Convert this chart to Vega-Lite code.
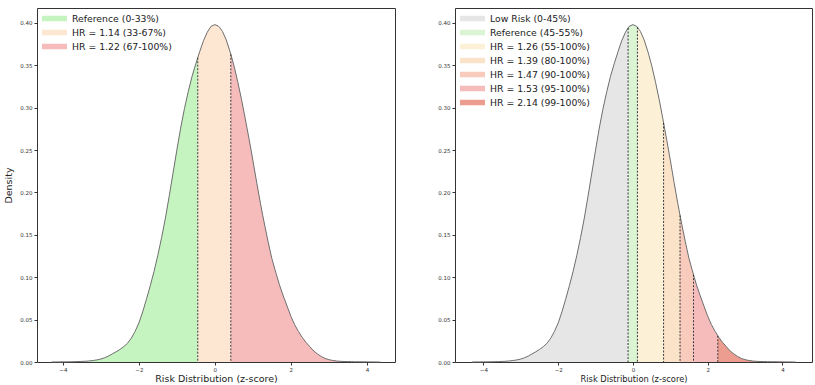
{
  "$schema": "https://vega.github.io/schema/vega-lite/v6.json",
  "padding": {"left": 3, "top": 7, "right": 0, "bottom": 0},
  "background": "white",
  "config": {
    "font": "DejaVu Sans",
    "view": {"stroke": "#333", "strokeWidth": 1},
    "axis": {"grid": false, "domain": false, "tickColor": "#333", "tickSize": 3, "labelFontSize": 5.5, "labelColor": "#333", "labelPadding": 2, "titleFontSize": 9.5, "titleFontWeight": "normal", "titleColor": "#222", "labelFont": "DejaVu Sans", "titleFont": "DejaVu Sans"},
    "legend": {"labelFont": "DejaVu Sans", "labelFontSize": 9.3, "labelColor": "#222", "labelOffset": 5, "rowPadding": 3, "clipHeight": 11, "padding": 0, "offset": 5}
  },
  "datasets": {
    "kde": [
      {"x": -4.3, "d": 0}, {"x": -4.2, "d": 0.0001}, {"x": -4.1, "d": 0.0001}, {"x": -4.0, "d": 0.0002}, {"x": -3.9, "d": 0.0002},
      {"x": -3.8, "d": 0.0003}, {"x": -3.7, "d": 0.0004}, {"x": -3.6, "d": 0.0005}, {"x": -3.5, "d": 0.0007}, {"x": -3.4, "d": 0.0009},
      {"x": -3.3, "d": 0.0013}, {"x": -3.2, "d": 0.0018}, {"x": -3.1, "d": 0.0025}, {"x": -3.0, "d": 0.0035}, {"x": -2.9, "d": 0.005},
      {"x": -2.8, "d": 0.007}, {"x": -2.7, "d": 0.0095}, {"x": -2.6, "d": 0.012}, {"x": -2.5, "d": 0.0148}, {"x": -2.4, "d": 0.018},
      {"x": -2.3, "d": 0.022}, {"x": -2.2, "d": 0.028}, {"x": -2.1, "d": 0.036}, {"x": -2.0, "d": 0.046}, {"x": -1.9, "d": 0.059},
      {"x": -1.8, "d": 0.074}, {"x": -1.7, "d": 0.09}, {"x": -1.6, "d": 0.107}, {"x": -1.5, "d": 0.126}, {"x": -1.4, "d": 0.147},
      {"x": -1.3, "d": 0.17}, {"x": -1.2, "d": 0.196}, {"x": -1.1, "d": 0.223}, {"x": -1.0, "d": 0.25}, {"x": -0.9, "d": 0.276},
      {"x": -0.8, "d": 0.299}, {"x": -0.7, "d": 0.319}, {"x": -0.6, "d": 0.337}, {"x": -0.5, "d": 0.352}, {"x": -0.45, "d": 0.359},
      {"x": -0.4, "d": 0.366}, {"x": -0.3, "d": 0.379}, {"x": -0.2, "d": 0.389}, {"x": -0.13, "d": 0.394}, {"x": -0.1, "d": 0.396},
      {"x": 0.0, "d": 0.398}, {"x": 0.1, "d": 0.396}, {"x": 0.12, "d": 0.395}, {"x": 0.2, "d": 0.39}, {"x": 0.3, "d": 0.38},
      {"x": 0.4, "d": 0.366}, {"x": 0.42, "d": 0.363}, {"x": 0.5, "d": 0.35}, {"x": 0.6, "d": 0.331}, {"x": 0.7, "d": 0.31},
      {"x": 0.8, "d": 0.287}, {"x": 0.82, "d": 0.282}, {"x": 0.9, "d": 0.263}, {"x": 1.0, "d": 0.238}, {"x": 1.1, "d": 0.212},
      {"x": 1.2, "d": 0.187}, {"x": 1.26, "d": 0.173}, {"x": 1.3, "d": 0.164}, {"x": 1.4, "d": 0.142}, {"x": 1.5, "d": 0.122},
      {"x": 1.6, "d": 0.106}, {"x": 1.62, "d": 0.103}, {"x": 1.7, "d": 0.091}, {"x": 1.8, "d": 0.078}, {"x": 1.9, "d": 0.066},
      {"x": 2.0, "d": 0.054}, {"x": 2.1, "d": 0.044}, {"x": 2.2, "d": 0.036}, {"x": 2.27, "d": 0.031}, {"x": 2.3, "d": 0.029},
      {"x": 2.4, "d": 0.023}, {"x": 2.5, "d": 0.018}, {"x": 2.6, "d": 0.013}, {"x": 2.7, "d": 0.0095}, {"x": 2.8, "d": 0.0065},
      {"x": 2.9, "d": 0.0042}, {"x": 3.0, "d": 0.0028}, {"x": 3.1, "d": 0.0018}, {"x": 3.2, "d": 0.0012}, {"x": 3.3, "d": 0.0008},
      {"x": 3.4, "d": 0.0006}, {"x": 3.5, "d": 0.0005}, {"x": 3.6, "d": 0.0004}, {"x": 3.7, "d": 0.0003}, {"x": 3.8, "d": 0.0003},
      {"x": 3.9, "d": 0.0002}, {"x": 4.0, "d": 0.0002}, {"x": 4.1, "d": 0.0001}, {"x": 4.2, "d": 0.0001}, {"x": 4.3, "d": 0}, {"x": 4.35, "d": 0}
    ],
    "cutsL": [{"x": -0.45, "d": 0.359}, {"x": 0.42, "d": 0.363}],
    "cutsR": [{"x": -0.13, "d": 0.394}, {"x": 0.12, "d": 0.395}, {"x": 0.82, "d": 0.282}, {"x": 1.26, "d": 0.173}, {"x": 1.62, "d": 0.103}, {"x": 2.27, "d": 0.031}]
  },
  "spacing": 41,
  "resolve": {"scale": {"color": "independent"}, "legend": {"color": "independent"}},
  "hconcat": [
    {
      "width": 358,
      "height": 354,
      "data": {"name": "kde"},
      "encoding": {
        "x": {"field": "x", "type": "quantitative", "scale": {"domain": [-4.68, 4.74], "nice": false, "zero": false}, "axis": {"values": [-4, -2, 0, 2, 4], "format": "d", "labelExpr": "replace(datum.label, '-', '\u2212')", "title": "Risk Distribution (z-score)", "titlePadding": 1}},
        "y": {"field": "d", "type": "quantitative", "scale": {"domain": [0, 0.4176], "nice": false}, "axis": {"values": [0, 0.05, 0.1, 0.15, 0.2, 0.25, 0.3, 0.35, 0.4], "format": ".2f", "title": "Density", "titlePadding": 6}}
      },
      "layer": [
        {
          "transform": [{"filter": "datum.x <= -0.45"}],
          "mark": {"type": "area", "opacity": 1},
          "encoding": {"color": {"datum": "Reference (0-33%)", "scale": {"domain": ["Reference (0-33%)", "HR = 1.14 (33-67%)", "HR = 1.22 (67-100%)"], "range": ["#c6f4c0", "#fde6d2", "#f6bcbc"]}, "legend": {"title": null, "orient": "top-left", "symbolType": "M-1,-0.22H1V0.22H-1Z", "symbolSize": 625, "symbolOpacity": 1, "symbolStrokeWidth": 0}}}
        },
        {
          "transform": [{"filter": "datum.x >= -0.45 && datum.x <= 0.42"}],
          "mark": {"type": "area", "opacity": 1},
          "encoding": {"color": {"datum": "HR = 1.14 (33-67%)"}}
        },
        {
          "transform": [{"filter": "datum.x >= 0.42"}],
          "mark": {"type": "area", "opacity": 1},
          "encoding": {"color": {"datum": "HR = 1.22 (67-100%)"}}
        },
        {
          "mark": {"type": "line", "color": "#6e6e6e", "strokeWidth": 1},
          "encoding": {}
        },
        {
          "data": {"name": "cutsL"},
          "mark": {"type": "rule", "color": "#222", "strokeWidth": 0.9, "strokeDash": [2, 1.5]},
          "encoding": {"y2": {"datum": 0}}
        }
      ]
    },
    {
      "width": 357,
      "height": 354,
      "data": {"name": "kde"},
      "encoding": {
        "x": {"field": "x", "type": "quantitative", "scale": {"domain": [-4.76, 4.79], "nice": false, "zero": false}, "axis": {"values": [-4, -2, 0, 2, 4], "format": "d", "labelExpr": "replace(datum.label, '-', '\u2212')", "title": "Risk Distribution (z-score)", "titleFontSize": 8.3, "titlePadding": 2}},
        "y": {"field": "d", "type": "quantitative", "scale": {"domain": [0, 0.4176], "nice": false}, "axis": {"values": [0, 0.05, 0.1, 0.15, 0.2, 0.25, 0.3, 0.35, 0.4], "format": ".2f", "title": null}}
      },
      "layer": [
        {
          "transform": [{"filter": "datum.x <= -0.13"}],
          "mark": {"type": "area", "opacity": 1},
          "encoding": {"color": {"datum": "Low Risk (0-45%)", "scale": {"domain": ["Low Risk (0-45%)", "Reference (45-55%)", "HR = 1.26 (55-100%)", "HR = 1.39 (80-100%)", "HR = 1.47 (90-100%)", "HR = 1.53 (95-100%)", "HR = 2.14 (99-100%)"], "range": ["#e6e6e6", "#daf4d4", "#fcf0d6", "#fbe3c9", "#f8cbbd", "#f6bcbc", "#ec9d90"]}, "legend": {"title": null, "orient": "top-left", "symbolType": "M-1,-0.22H1V0.22H-1Z", "symbolSize": 625, "symbolOpacity": 1, "symbolStrokeWidth": 0}}}
        },
        {
          "transform": [{"filter": "datum.x >= -0.13 && datum.x <= 0.12"}],
          "mark": {"type": "area", "opacity": 1},
          "encoding": {"color": {"datum": "Reference (45-55%)"}}
        },
        {
          "transform": [{"filter": "datum.x >= 0.12 && datum.x <= 0.82"}],
          "mark": {"type": "area", "opacity": 1},
          "encoding": {"color": {"datum": "HR = 1.26 (55-100%)"}}
        },
        {
          "transform": [{"filter": "datum.x >= 0.82 && datum.x <= 1.26"}],
          "mark": {"type": "area", "opacity": 1},
          "encoding": {"color": {"datum": "HR = 1.39 (80-100%)"}}
        },
        {
          "transform": [{"filter": "datum.x >= 1.26 && datum.x <= 1.62"}],
          "mark": {"type": "area", "opacity": 1},
          "encoding": {"color": {"datum": "HR = 1.47 (90-100%)"}}
        },
        {
          "transform": [{"filter": "datum.x >= 1.62 && datum.x <= 2.27"}],
          "mark": {"type": "area", "opacity": 1},
          "encoding": {"color": {"datum": "HR = 1.53 (95-100%)"}}
        },
        {
          "transform": [{"filter": "datum.x >= 2.27"}],
          "mark": {"type": "area", "opacity": 1},
          "encoding": {"color": {"datum": "HR = 2.14 (99-100%)"}}
        },
        {
          "mark": {"type": "line", "color": "#6e6e6e", "strokeWidth": 1},
          "encoding": {}
        },
        {
          "data": {"name": "cutsR"},
          "mark": {"type": "rule", "color": "#222", "strokeWidth": 0.9, "strokeDash": [2, 1.5]},
          "encoding": {"y2": {"datum": 0}}
        }
      ]
    }
  ]
}
